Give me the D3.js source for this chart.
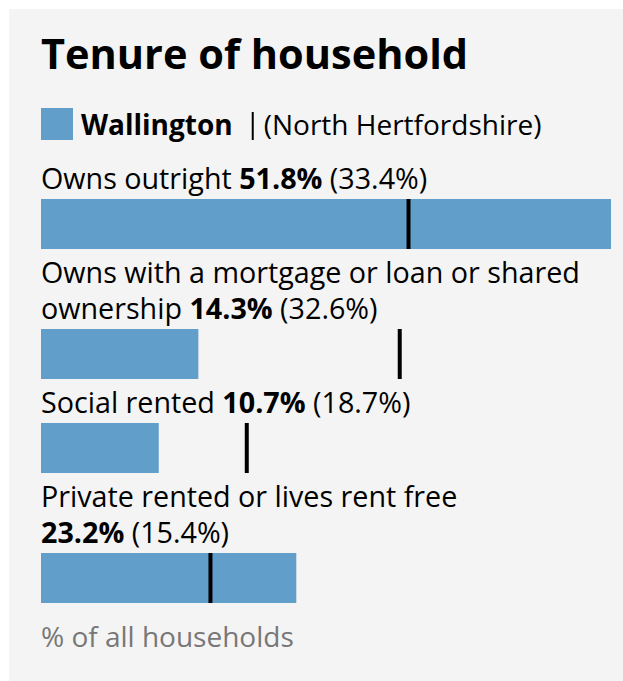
<!DOCTYPE html>
<html>
<head>
<meta charset="utf-8">
<script src="https://cdn.jsdelivr.net/npm/d3@7"></script>
<style>
  body { margin: 0; background: #fff; }
  svg { display: block; font-family: "Open Sans", sans-serif; }
</style>
</head>
<body>
<div id="chart"></div>
<script>
var title = 'Tenure of household';
var areaName = 'Wallington';
var compareName = '(North Hertfordshire)';
var categories = [
    'Owns outright',
    'Owns with a mortgage or loan or shared ownership',
    'Social rented',
    'Private rented or lives rent free'
];
var areaValues = [51.8, 14.3, 10.7, 23.2];
var compareValues = [33.4, 32.6, 18.7, 15.4];
var footnote = '% of all households';

var W = 623, H = 681;
var left = 41, barW = 570, barH = 50;
var fontSize = 28.7, lineH = 36;
var barColor = '#619ec9';

var svg = d3.select('#chart').append('svg')
    .attr('width', W)
    .attr('height', H);

svg.append('rect')
    .attr('x', 9).attr('y', 9)
    .attr('width', W - 9).attr('height', H - 9)
    .attr('fill', '#f4f4f4');

svg.append('text')
    .attr('x', left).attr('y', 69)
    .attr('font-size', 41.5)
    .attr('font-weight', 'bold')
    .attr('fill', '#000')
    .text(title);

// legend
var lg = svg.append('g');
lg.append('rect')
    .attr('x', left).attr('y', 108)
    .attr('width', 32).attr('height', 32)
    .attr('fill', barColor);
var lname = lg.append('text')
    .attr('x', 81).attr('y', 135)
    .attr('font-size', 28)
    .attr('font-weight', 'bold')
    .text(areaName);
var lx = 81 + lname.node().getComputedTextLength() + 20;
lg.append('line')
    .attr('x1', lx).attr('x2', lx)
    .attr('y1', 112).attr('y2', 140)
    .attr('stroke', '#000').attr('stroke-width', 2);
lg.append('text')
    .attr('x', lx + 11).attr('y', 135)
    .attr('font-size', 28)
    .text(compareName);

var x = d3.scaleLinear()
    .domain([0, d3.max(areaValues)])
    .range([0, barW]);

// measure a run of tspans
var probe = svg.append('text').attr('font-size', fontSize).attr('visibility', 'hidden');
function measure(parts) {
    probe.selectAll('tspan').remove();
    parts.forEach(function (p) {
        probe.append('tspan').attr('font-weight', p.b ? 'bold' : 'normal').text(p.t);
    });
    return probe.node().getComputedTextLength();
}
var spaceW = measure([{ t: 'a a' }]) - measure([{ t: 'aa' }]);

var y = 189; // first baseline
categories.forEach(function (cat, i) {
    // words of the name, then value + comparison kept together
    var words = cat.split(' ').map(function (w) { return [{ t: w, b: false }]; });
    words.push([
        { t: areaValues[i].toFixed(1) + '%', b: true },
        { t: ' (' + compareValues[i].toFixed(1) + '%)', b: false }
    ]);

    var lines = [[]], cur = 0;
    words.forEach(function (w) {
        var ww = measure(w);
        var last = lines[lines.length - 1];
        var need = last.length ? cur + spaceW + ww : ww;
        if (need > barW && last.length) {
            lines.push([w]);
            cur = ww;
        } else {
            last.push(w);
            cur = need;
        }
    });

    var g = svg.append('g');
    lines.forEach(function (line, li) {
        var t = g.append('text')
            .attr('x', left)
            .attr('y', y + li * lineH)
            .attr('font-size', fontSize)
            .attr('fill', '#000');
        line.forEach(function (w, wi) {
            w.forEach(function (p, pi) {
                t.append('tspan')
                    .attr('font-weight', p.b ? 'bold' : 'normal')
                    .text((wi && !pi ? ' ' : '') + p.t);
            });
        });
    });

    var barTop = y + (lines.length - 1) * lineH + 10;
    g.append('rect')
        .attr('x', left)
        .attr('y', barTop)
        .attr('width', x(areaValues[i]))
        .attr('height', barH)
        .attr('fill', barColor);
    g.append('line')
        .attr('x1', left + x(compareValues[i]))
        .attr('x2', left + x(compareValues[i]))
        .attr('y1', barTop)
        .attr('y2', barTop + barH)
        .attr('stroke', '#000')
        .attr('stroke-width', 4);

    y = barTop + barH + 34;
});
probe.remove();

svg.append('text')
    .attr('x', left).attr('y', y + 10)
    .attr('font-size', 28)
    .attr('fill', '#777')
    .text(footnote);
</script>
</body>
</html>
